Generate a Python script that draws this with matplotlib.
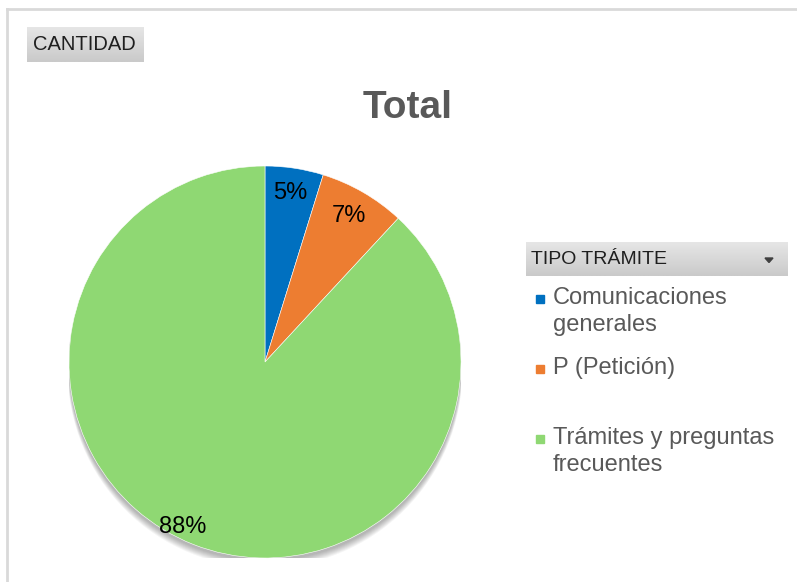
import matplotlib.pyplot as plt
import numpy as np
from matplotlib.patches import Rectangle, Polygon, Circle
from matplotlib.lines import Line2D

plt.rcParams['font.family'] = ['Liberation Sans', 'DejaVu Sans']

# ---------------- data ----------------
categories = ['Comunicaciones\ngenerales', 'P (Petición)', 'Trámites y preguntas\nfrecuentes']
values = [4.8, 7.1, 88.1]
colors = ['#0070C0', '#ED7D31', '#8FD873']
label_radius = [0.87, 0.86, 0.94]
label_angle_shift = [0, 0, -5]

W, H = 797, 582
fig = plt.figure(figsize=(W / 100, H / 100), dpi=100)


def fx(px):
    return px / W


def fy(py):
    return 1 - py / H


# chart border (light gray, right/bottom run off the picture)
fig.add_artist(Line2D([fx(7), fx(7)], [fy(9), 0], transform=fig.transFigure,
                      color='#d9d9d9', lw=2))
fig.add_artist(Line2D([fx(7), 1], [fy(9), fy(9)], transform=fig.transFigure,
                      color='#d9d9d9', lw=2))


def gray_button(x0, y0, x1, y1):
    bax = fig.add_axes([fx(x0), fy(y1), fx(x1 - x0), (y1 - y0) / H])
    grad = np.linspace(0.90, 0.79, 50).reshape(-1, 1)
    bax.imshow(grad, aspect='auto', cmap='gray', vmin=0, vmax=1,
               extent=[0, 1, 0, 1])
    bax.set_axis_off()
    return bax


# field button
gray_button(27, 27, 144, 62)
fig.text(fx(33), fy(45), 'CANTIDAD', fontsize=14.5, color='#1f1f1f',
         ha='left', va='center')

# title
fig.text(fx(408), fy(108), 'Total', fontsize=28, fontweight='bold',
         color='#595959', ha='center', va='center')

# ---------------- pie ----------------
cx, cy, r = 265, 362, 196
ax = fig.add_axes([fx(cx - r), fy(cy + r), 2 * r / W, 2 * r / H])

# soft shadow under the pie
for k in range(8):
    ax.add_patch(Circle((0, -0.015 - 0.004 * k), 1.0 + 0.001 * k,
                        color='black', alpha=0.04, zorder=0, lw=0))

wedges, _ = ax.pie(values, colors=colors, startangle=90, counterclock=False,
                   radius=1, wedgeprops=dict(linewidth=0.4, edgecolor='white'))
for w in wedges:
    w.set_zorder(2)

total = sum(values)
for w, v, rr, sh in zip(wedges, values, label_radius, label_angle_shift):
    ang = np.deg2rad((w.theta1 + w.theta2) / 2 + sh)
    ax.text(rr * np.cos(ang), rr * np.sin(ang), '%d%%' % round(100 * v / total),
            fontsize=17, color='black', ha='center', va='center', zorder=3)

ax.set_xlim(-1, 1)
ax.set_ylim(-1, 1)
ax.set_aspect('auto')
ax.set_axis_off()

# ---------------- legend ----------------
gray_button(526, 242, 788, 276)
fig.text(fx(531), fy(259), 'TIPO TRÁMITE', fontsize=14, color='#1f1f1f',
         ha='left', va='center')
fig.add_artist(Polygon([[fx(765), fy(258)], [fx(773), fy(258)], [fx(769), fy(262.5)]],
                       closed=True, transform=fig.transFigure, color='#404040'))

item_y = [298, 368, 438]
for lab, col, y in zip(categories, colors, item_y):
    fig.add_artist(Rectangle((fx(536), fy(y + 5)), fx(8), 8 / H,
                             transform=fig.transFigure, color=col))
    for i, line in enumerate(lab.split('\n')):
        fig.text(fx(553), fy(y + 27 * i), line, fontsize=17, color='#595959',
                 ha='left', va='center')

fig.savefig('out.png', dpi=100)
